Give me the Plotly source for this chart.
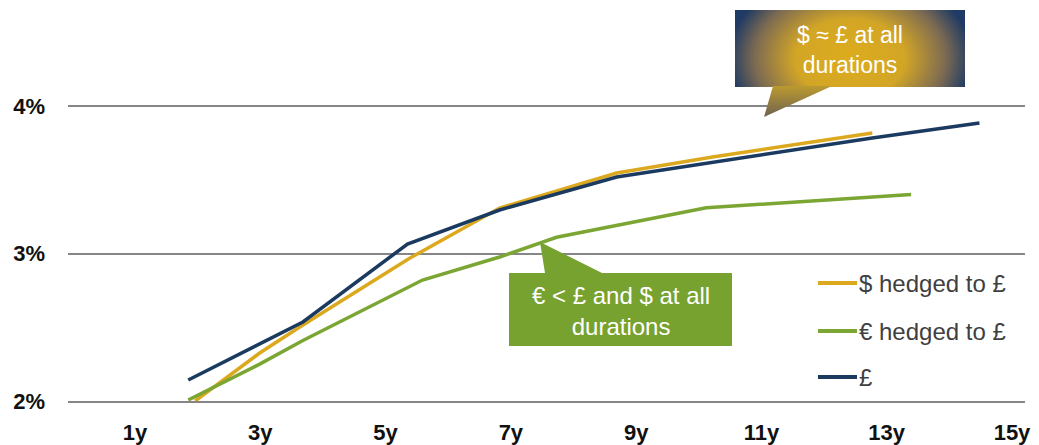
import base64
import plotly.graph_objects as go

# ---- data (duration in years, yield in %) ----
usd_x = [1.96, 2.99, 3.68, 5.39, 6.82, 8.69, 10.22, 12.77]
usd_y = [2.00, 2.325, 2.515, 2.969, 3.308, 3.546, 3.654, 3.817]
eur_x = [1.85, 2.99, 3.68, 5.59, 6.82, 7.73, 10.12, 13.39]
eur_y = [2.007, 2.25, 2.41, 2.82, 2.976, 3.11, 3.31, 3.40]
gbp_x = [1.85, 3.68, 5.35, 6.82, 8.69, 12.77, 14.48]
gbp_y = [2.142, 2.536, 3.064, 3.295, 3.519, 3.783, 3.885]
series_names = ["$ hedged to £", "€ hedged to £", "£"]
x_tick_vals = [1, 3, 5, 7, 9, 11, 13, 15]
x_tick_text = ["1y", "3y", "5y", "7y", "9y", "11y", "13y", "15y"]
y_tick_vals = [2, 3, 4]
y_tick_text = ["2%", "3%", "4%"]

GOLD = "#DCA91E"
GREEN = "#7BA634"
NAVY = "#1B3A60"
W, H = 1039, 445
PL, PR, PT, PB = 68, 1025, 0, 401


def fx(px):
    return (px - PL) / (PR - PL)


def fy(py):
    return (PB - py) / (PB - PT)


fig = go.Figure()
for xs, ys, c, n in [(usd_x, usd_y, GOLD, series_names[0]),
                     (eur_x, eur_y, GREEN, series_names[1]),
                     (gbp_x, gbp_y, NAVY, series_names[2])]:
    fig.add_trace(go.Scatter(x=xs, y=ys, mode="lines", name=n,
                             line=dict(color=c, width=3.5), showlegend=False))

font_fam = "Liberation Sans, Arial, sans-serif"
fig.update_layout(
    width=W, height=H,
    margin=dict(l=PL, r=W - PR, t=PT, b=H - PB),
    paper_bgcolor="white", plot_bgcolor="white",
    xaxis=dict(range=[1 - 67 / 62.64, 15 + 13 / 62.64], tickvals=x_tick_vals,
               ticktext=x_tick_text, showgrid=False, zeroline=False,
               showline=True, linecolor="#868686", linewidth=2,
               ticks="", ticklabelstandoff=11, automargin=False,
               tickfont=dict(family=font_fam, size=22, color="#111111", weight="bold")),
    yaxis=dict(range=[2, 2 + 401 / 147.5], tickvals=y_tick_vals, ticktext=y_tick_text,
               showgrid=True, gridcolor="#868686", gridwidth=2, zeroline=False,
               ticks="", ticklabelstandoff=22, automargin=False,
               tickfont=dict(family=font_fam, size=22, color="#111111", weight="bold")),
)

# ---- gradient callout (top) ----
svg = """<svg xmlns='http://www.w3.org/2000/svg' width='230' height='108' viewBox='0 0 230 108' preserveAspectRatio='none'>
<defs>
<radialGradient id='g' gradientUnits='userSpaceOnUse' cx='115' cy='48' r='122' gradientTransform='translate(115 48) scale(1 0.72) translate(-115 -48)'>
<stop offset='0' stop-color='#DDAC1C'/><stop offset='0.45' stop-color='#D2A526'/>
<stop offset='0.78' stop-color='#7D6B52'/><stop offset='1' stop-color='#1F3A64'/>
</radialGradient>
<linearGradient id='t' x1='0' y1='0' x2='0' y2='1'>
<stop offset='0' stop-color='#BC9A2E'/><stop offset='1' stop-color='#6E6352'/>
</linearGradient>
</defs>
<rect x='0' y='0' width='230' height='77' fill='url(#g)'/>
<polygon points='38,76 97,76 29,107' fill='url(#t)'/>
</svg>"""
uri = "data:image/svg+xml;base64," + base64.b64encode(svg.encode()).decode()
fig.add_layout_image(dict(source=uri, xref="paper", yref="paper", x=fx(735), y=fy(10),
                          sizex=230 / (PR - PL), sizey=108 / (PB - PT), sizing="stretch",
                          xanchor="left", yanchor="top", layer="above"))
fig.add_annotation(xref="paper", yref="paper", x=fx(850), y=fy(50), showarrow=False,
                   xanchor="center", yanchor="middle",
                   text="$ ≈ £ at all<br>durations", align="center",
                   font=dict(family=font_fam, size=23, color="white"))

# ---- green callout ----
pts = [(509, 273), (545, 273), (540, 242), (602, 273), (732, 273), (732, 346), (509, 346)]
path = "M " + " L ".join(f"{fx(a):.5f},{fy(b):.5f}" for a, b in pts) + " Z"
fig.add_shape(type="path", path=path, xref="paper", yref="paper",
              fillcolor="#78A22F", line=dict(width=0), layer="above")
fig.add_annotation(xref="paper", yref="paper", x=fx(621), y=fy(311), showarrow=False,
                   xanchor="center", yanchor="middle",
                   text="€ < £ and $ at all<br>durations", align="center",
                   font=dict(family=font_fam, size=24, color="white"))

# ---- legend (manual) ----
for (c, n, ly) in [(GOLD, series_names[0], 283), (GREEN, series_names[1], 331), (NAVY, series_names[2], 377)]:
    fig.add_shape(type="line", xref="paper", yref="paper", x0=fx(818), x1=fx(857),
                  y0=fy(ly), y1=fy(ly), line=dict(color=c, width=4))
    fig.add_annotation(xref="paper", yref="paper", x=fx(857), y=fy(ly), showarrow=False,
                       xanchor="left", yanchor="middle", text=n,
                       font=dict(family=font_fam, size=24, color="#404040"))

fig.write_html("out.html")
